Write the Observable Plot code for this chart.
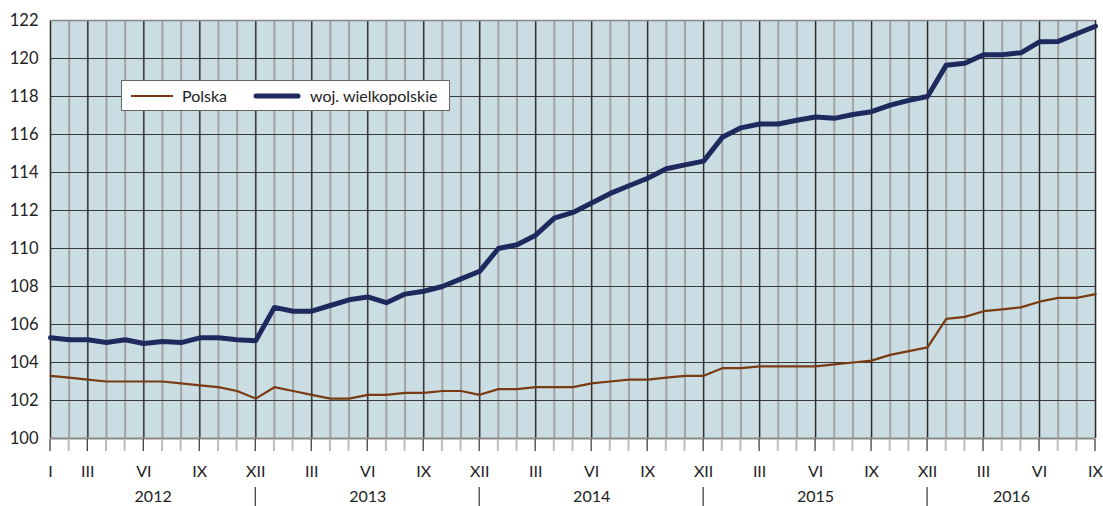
<!DOCTYPE html>
<html>
<head>
<meta charset="utf-8">
<script src="https://cdn.jsdelivr.net/npm/d3@7"></script>
<script src="https://cdn.jsdelivr.net/npm/@observablehq/plot@0.6"></script>
<style>
  html, body { margin: 0; padding: 0; background: #fff; }
  #chart { width: 1103px; height: 506px; }
  svg { font-family: Lato, "Open Sans", sans-serif; }
</style>
</head>
<body>
<div id="chart"></div>
<script>
const years = [2012, 2013, 2014, 2015, 2016];
const romanMonths = ["I","II","III","IV","V","VI","VII","VIII","IX","X","XI","XII"];
const shownMonths = ["III","VI","IX","XII"];
const yTicks = [100,102,104,106,108,110,112,114,116,118,120,122];

const polska = [
  103.3,103.2,103.1,103.0,103.0,103.0,103.0,102.9,102.8,102.7,102.5,102.1,
  102.7,102.5,102.3,102.1,102.1,102.3,102.3,102.4,102.4,102.5,102.5,102.3,
  102.6,102.6,102.7,102.7,102.7,102.9,103.0,103.1,103.1,103.2,103.3,103.3,
  103.7,103.7,103.8,103.8,103.8,103.8,103.9,104.0,104.1,104.4,104.6,104.8,
  106.3,106.4,106.7,106.8,106.9,107.2,107.4,107.4,107.6
];
const wielkopolskie = [
  105.3,105.2,105.2,105.05,105.2,105.0,105.1,105.05,105.3,105.3,105.2,105.15,
  106.9,106.7,106.7,107.0,107.3,107.45,107.15,107.6,107.75,108.0,108.4,108.8,
  110.0,110.2,110.7,111.6,111.9,112.4,112.9,113.3,113.7,114.2,114.4,114.6,
  115.85,116.35,116.55,116.55,116.75,116.92,116.85,117.05,117.2,117.55,117.8,118.0,
  119.65,119.75,120.2,120.2,120.3,120.88,120.9,121.3,121.7
];
const seriesNames = ["Polska", "woj. wielkopolskie"];

const n = polska.length;
const idx = d3.range(n);
const months = idx.map(i => ({i, m: romanMonths[i % 12], y: years[Math.floor(i / 12)]}));
const quarterIdx = months.filter(d => (d.i % 12) % 3 === 2 || d.i === 0).map(d => d.i);
const labelled = months.filter(d => d.i === 0 || shownMonths.includes(d.m));
const decIdx = months.filter(d => d.m === "XII").map(d => d.i);
const yearLabels = years.map((y, k) => {
  const start = k === 0 ? 0 : 12 * k - 1;
  const end = Math.min(12 * k + 11, n - 1);
  return {y, x: (start + end) / 2};
});

const plot = Plot.plot({
  width: 1103,
  height: 506,
  marginLeft: 50,
  marginRight: 8,
  marginTop: 20,
  marginBottom: 68,
  x: {type: "linear", domain: [0, n - 1], axis: null},
  y: {domain: [100, 122], axis: null},
  style: {fontFamily: "Lato, 'Open Sans', sans-serif", background: "#fff"},
  marks: [
    Plot.frame({fill: "#c9dde3", stroke: null}),
    Plot.ruleX(idx, {x: d => d, stroke: "#a3a3a3", strokeWidth: 2}),
    Plot.ruleY(yTicks.filter(t => t > 100), {y: d => d, stroke: "#3a3a3a", strokeWidth: 1.2}),
    Plot.ruleX(quarterIdx, {x: d => d, stroke: "#2a2a2a", strokeWidth: 1.2}),
    Plot.ruleY([122], {stroke: "#888", strokeWidth: 1.5}),
    Plot.ruleY([100], {stroke: "#8a8a8a", strokeWidth: 2}),
    Plot.text(yTicks, {x: 0, y: d => d, text: d => String(d), dx: -12, textAnchor: "end", fontSize: 16.5, fill: "#222"}),
    Plot.text(labelled, {x: "i", y: 100, text: "m", dy: 33, fontSize: 16, fill: "#222"}),
    Plot.text(yearLabels, {x: "x", y: 100, text: d => String(d.y), dy: 58, fontSize: 16, fill: "#222"}),
    Plot.line(polska, {x: (d, i) => i, y: d => d, stroke: "#7b3b12", strokeWidth: 2.2}),
    Plot.line(wielkopolskie, {x: (d, i) => i, y: d => d, stroke: "#1e2a5e", strokeWidth: 5, strokeLinejoin: "round"})
  ]
});

const sx = plot.scale("x"), sy = plot.scale("y");
const svg = d3.select(plot);
const yb = sy.apply(100);
const g = svg.append("g");
idx.forEach(i => {
  const q = quarterIdx.includes(i);
  g.append("line").attr("x1", sx.apply(i)).attr("x2", sx.apply(i))
    .attr("y1", yb + 1).attr("y2", yb + 13)
    .attr("stroke", q ? "#333" : "#bdbdbd").attr("stroke-width", q ? 1.2 : 2);
});
decIdx.filter(i => i < n - 1).forEach(i => {
  g.append("line").attr("x1", sx.apply(i)).attr("x2", sx.apply(i))
    .attr("y1", yb + 49).attr("y2", 506)
    .attr("stroke", "#333").attr("stroke-width", 1.2);
});

const lg = svg.append("g").attr("text-anchor", "start");
lg.append("rect").attr("x", 121.5).attr("y", 80.5).attr("width", 328).attr("height", 30)
  .attr("fill", "#fff").attr("stroke", "#666").attr("stroke-width", 1);
lg.append("line").attr("x1", 131).attr("x2", 173).attr("y1", 96).attr("y2", 96)
  .attr("stroke", "#7b3b12").attr("stroke-width", 2.2);
lg.append("text").attr("x", 182).attr("y", 96).attr("dy", "0.35em").attr("font-size", 16)
  .attr("text-anchor", "start").attr("fill", "#222").text(seriesNames[0]);
lg.append("line").attr("x1", 256).attr("x2", 298).attr("y1", 96).attr("y2", 96)
  .attr("stroke", "#1e2a5e").attr("stroke-width", 5).attr("stroke-linecap", "round");
lg.append("text").attr("x", 310).attr("y", 96).attr("dy", "0.35em").attr("font-size", 16)
  .attr("text-anchor", "start").attr("fill", "#222").text(seriesNames[1]);

document.getElementById("chart").appendChild(plot);
</script>
</body>
</html>
